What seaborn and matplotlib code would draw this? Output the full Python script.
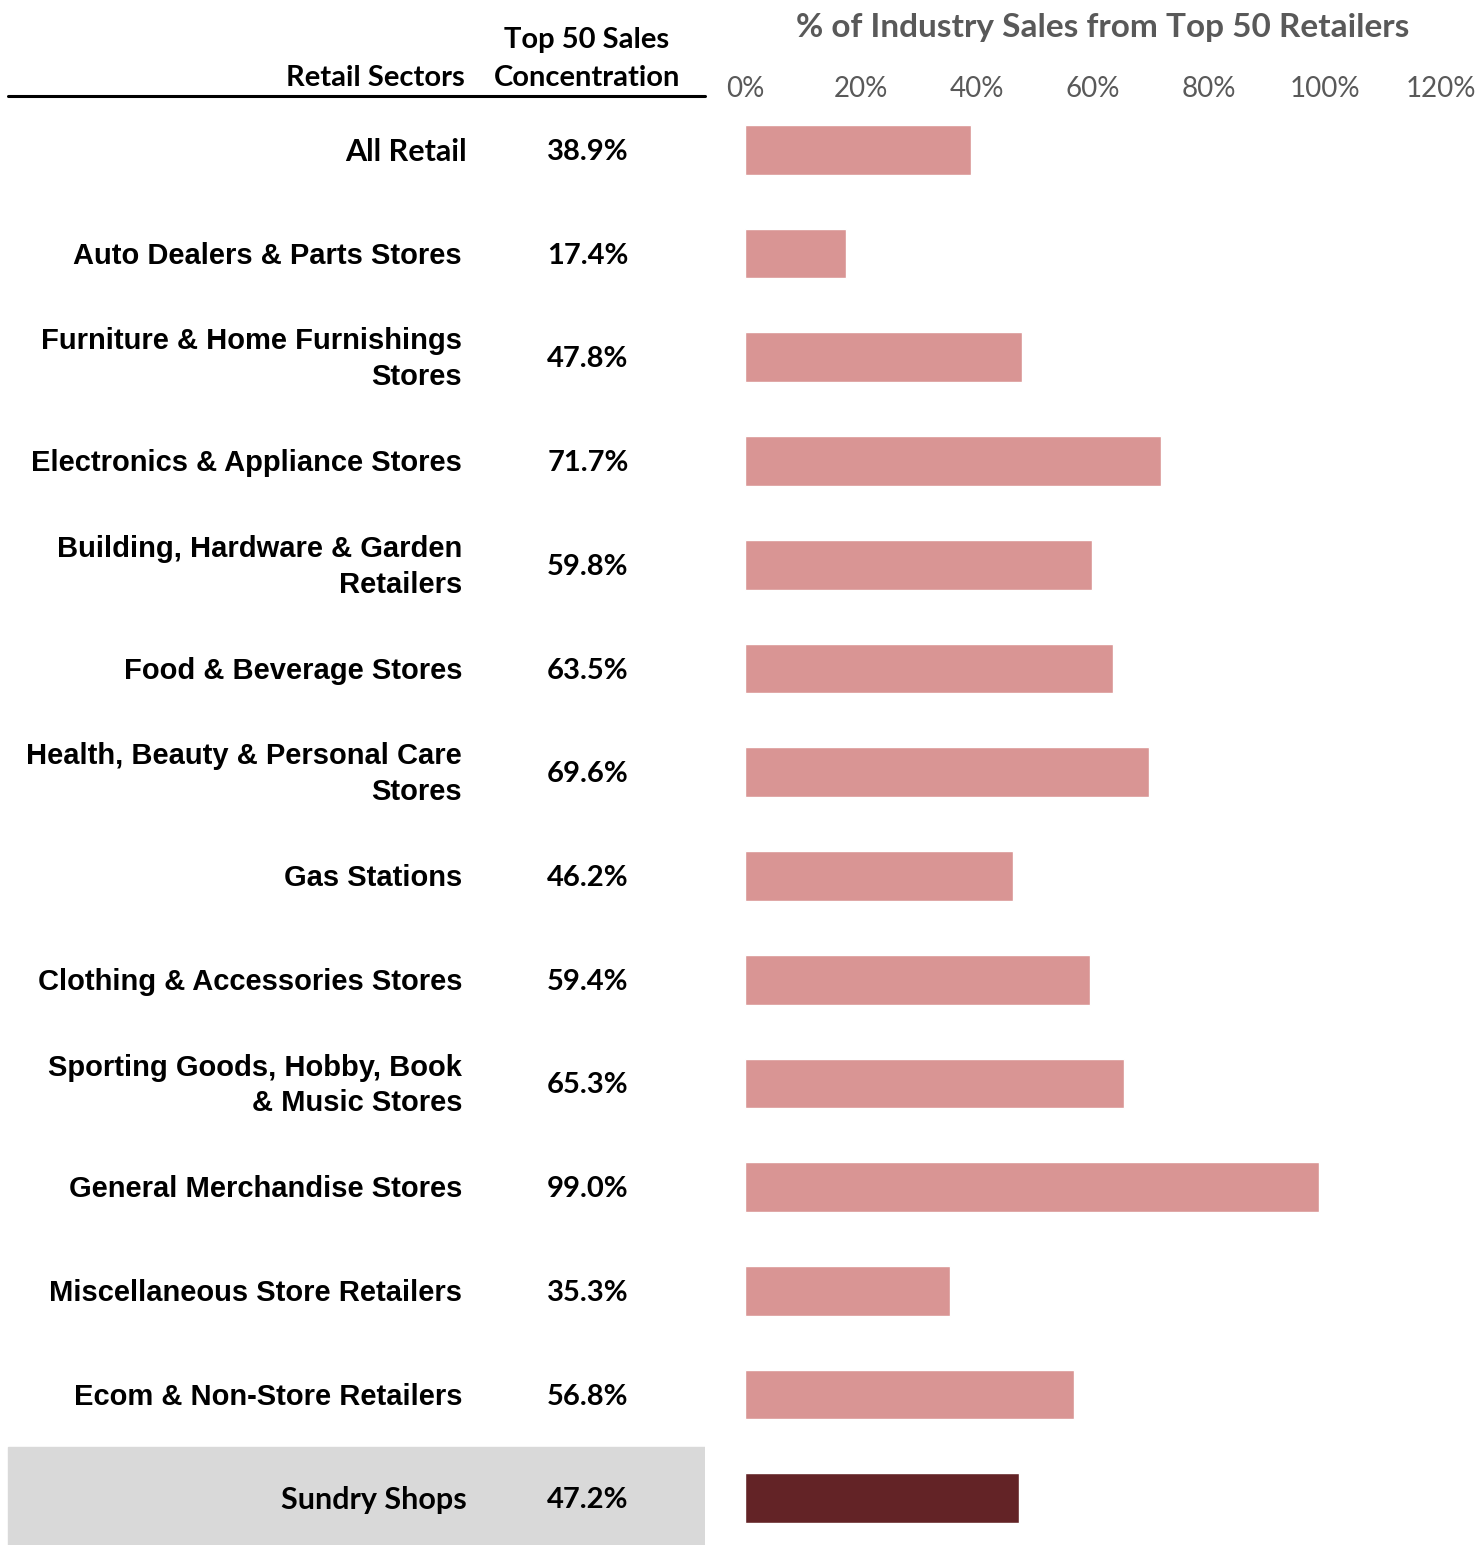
import matplotlib
matplotlib.use("Agg")
import matplotlib.pyplot as plt
import seaborn as sns
import pandas as pd
from matplotlib.lines import Line2D

sectors = ["All Retail", "Auto Dealers & Parts Stores", "Furniture & Home Furnishings\nStores",
           "Electronics & Appliance Stores", "Building, Hardware & Garden\nRetailers",
           "Food & Beverage Stores", "Health, Beauty & Personal Care\nStores", "Gas Stations",
           "Clothing & Accessories Stores", "Sporting Goods, Hobby, Book\n& Music Stores",
           "General Merchandise Stores", "Miscellaneous Store Retailers",
           "Ecom & Non-Store Retailers", "Sundry Shops"]
concentration = [38.9, 17.4, 47.8, 71.7, 59.8, 63.5, 69.6, 46.2, 59.4, 65.3, 99.0, 35.3, 56.8, 47.2]
xticks = [0, 20, 40, 60, 80, 100, 120]

pink = "#D99594"
dark = "#632326"
grey_txt = "#595959"

df = pd.DataFrame({"sector": sectors, "value": concentration})
colors = [pink] * (len(df) - 1) + [dark]

W, H = 1481, 1545
sns.set_style("white")
plt.rcParams["text.color"] = "black"
fig = plt.figure(figsize=(W / 100, H / 100), dpi=100)

top_px = 98
ylim = (13.45, -0.5)

# bar chart
ax = fig.add_axes([745 / W, 0, 696 / W, (H - top_px) / H])
sns.barplot(data=df, x="value", y="sector", hue="sector", palette=colors,
            legend=False, orient="h", width=0.48, ax=ax, saturation=1)
ax.set_xlim(0, 120)
ax.set_ylim(*ylim)
ax.set_xticks(xticks)
ax.set_xticklabels([f"{t}%" for t in xticks], fontfamily="Lato", fontsize=20, color=grey_txt)
ax.xaxis.tick_top()
ax.tick_params(axis="x", length=0, pad=-3)
ax.set_yticks([])
ax.set_xlabel("")
ax.set_ylabel("")
for s in ax.spines.values():
    s.set_visible(False)

# table on the left
tab = fig.add_axes([0, 0, 705 / W, (H - top_px) / H])
tab.set_xlim(0, 705)
tab.set_ylim(*ylim)
tab.axis("off")
tab.axhspan(12.51, 13.45, xmin=8 / 705, xmax=1, color="#D9D9D9", zorder=0)

lato_rows = {"All Retail", "Sundry Shops"}
for i, (name, val) in enumerate(zip(sectors, concentration)):
    if name in lato_rows:
        tab.text(467, i + 0.02, name, ha="right", va="center", fontfamily="Lato",
                 fontweight="bold", fontsize=22, color="black")
    else:
        tab.text(462, i + 0.02, name, ha="right", va="center", fontfamily="Liberation Sans",
                 fontweight="bold", fontsize=21, multialignment="right", linespacing=1.36,
                 color="black")
    tab.text(588, i + 0.02, f"{val:.1f}%", ha="center", va="center", fontfamily="Lato",
             fontweight="bold", fontsize=21, color="black")

# headers
fig.text(465 / W, 1 - 78 / H, "Retail Sectors", ha="right", va="center",
         fontfamily="Lato", fontweight="bold", fontsize=21, color="black")
fig.text(587 / W, 1 - 40 / H, "Top 50 Sales", ha="center", va="center",
         fontfamily="Lato", fontweight="bold", fontsize=21, color="black")
fig.text(587 / W, 1 - 78 / H, "Concentration", ha="center", va="center",
         fontfamily="Lato", fontweight="bold", fontsize=21, color="black")
fig.add_artist(Line2D([8 / W, 705 / W], [1 - 96 / H, 1 - 96 / H], color="black", lw=2.2))

fig.text(1103 / W, 1 - 28 / H, "% of Industry Sales from Top 50 Retailers", ha="center",
         va="center", fontfamily="Lato", fontweight="bold", fontsize=24, color=grey_txt)

fig.savefig("out.png", dpi=100)
